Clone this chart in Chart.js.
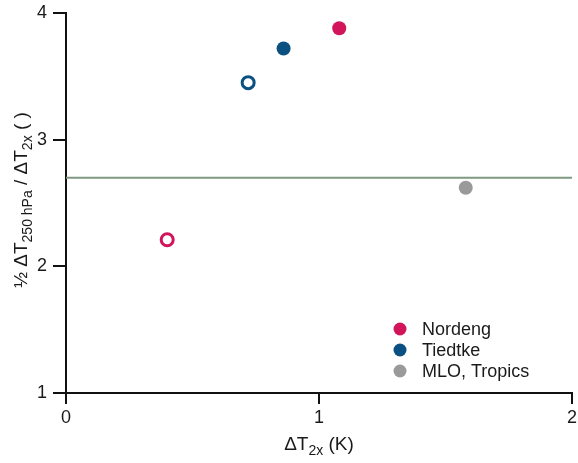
<!DOCTYPE html>
<html>
<head>
<meta charset="utf-8">
<script src="https://cdn.jsdelivr.net/npm/chart.js@4.4.0/dist/chart.umd.min.js"></script>
<style>
  html, body { margin: 0; padding: 0; background: #fff; }
  #wrap { width: 578px; height: 463px; }
</style>
</head>
<body>
<div id="wrap"><canvas id="chart" width="578" height="463"></canvas></div>
<script>
// data
const seriesNames = ['Nordeng', 'Tiedtke', 'MLO, Tropics'];
const seriesColors = ['#d2145a', '#0a5080', '#9a9a9a'];
const nordengX = [1.08, 0.40];
const nordengY = [3.88, 2.21];
const nordengFilled = [true, false];
const tiedtkeX = [0.86, 0.72];
const tiedtkeY = [3.72, 3.45];
const tiedtkeFilled = [true, false];
const mloX = [1.58];
const mloY = [2.62];
const mloFilled = [true];
const refLineX = [0, 2];
const refLineY = [2.70, 2.70];
const xTicks = [0, 1, 2];
const yTicks = [1, 2, 3, 4];

const FONT = '"Liberation Sans", Arial, sans-serif';

function pts(xs, ys) {
  return xs.map((x, i) => ({ x: x, y: ys[i] }));
}

function scatterSet(label, color, xs, ys, filled) {
  return {
    label: label,
    data: pts(xs, ys),
    showLine: false,
    pointRadius: filled.map(f => f ? 7 : 6),
    pointBorderWidth: filled.map(f => f ? 0 : 3),
    pointBackgroundColor: filled.map(f => f ? color : '#ffffff'),
    pointBorderColor: color,
    pointHoverRadius: filled.map(f => f ? 7 : 6)
  };
}

const datasets = [
  {
    label: 'ref',
    data: pts(refLineX, refLineY),
    showLine: true,
    borderColor: '#7f9a80',
    borderWidth: 2,
    pointRadius: 0
  },
  scatterSet(seriesNames[0], seriesColors[0], nordengX, nordengY, nordengFilled),
  scatterSet(seriesNames[1], seriesColors[1], tiedtkeX, tiedtkeY, tiedtkeFilled),
  scatterSet(seriesNames[2], seriesColors[2], mloX, mloY, mloFilled)
];

// draw text with subscript pieces: parts = [[text, isSub], ...]
function partsWidth(ctx, parts, size, subSize) {
  let w = 0;
  parts.forEach(p => {
    ctx.font = (p[1] ? subSize : size) + 'px ' + FONT;
    w += ctx.measureText(p[0]).width;
  });
  return w;
}
function drawParts(ctx, parts, x, y, size, subSize) {
  let cx = x;
  parts.forEach(p => {
    ctx.font = (p[1] ? subSize : size) + 'px ' + FONT;
    ctx.fillText(p[0], cx, p[1] ? y + size * 0.3 : y);
    cx += ctx.measureText(p[0]).width;
  });
}

const extras = {
  id: 'extras',
  afterDraw(chart) {
    const ctx = chart.ctx;
    const area = chart.chartArea;
    const xs = chart.scales.x;
    ctx.save();
    ctx.fillStyle = '#1a1a1a';
    ctx.textBaseline = 'middle';

    // x tick labels (drawn here so they don't shrink the plot area)
    ctx.textAlign = 'center';
    ctx.font = '18px ' + FONT;
    xTicks.forEach(v => ctx.fillText(String(v), xs.getPixelForValue(v), 418));

    // x title
    ctx.textAlign = 'left';
    const xParts = [['\u0394T', false], ['2x', true], [' (K)', false]];
    const xw = partsWidth(ctx, xParts, 19, 14);
    drawParts(ctx, xParts, (area.left + area.right) / 2 - xw / 2, 445, 19, 14);

    // y title
    const yParts = [['\u00bd \u0394T', false], ['250 hPa', true], [' / \u0394T', false], ['2x', true], [' ( )', false]];
    const yw = partsWidth(ctx, yParts, 19, 14);
    ctx.translate(22, 200);
    ctx.rotate(-Math.PI / 2);
    drawParts(ctx, yParts, -yw / 2, 0, 19, 14);
    ctx.restore();

    // legend
    ctx.save();
    ctx.textBaseline = 'middle';
    ctx.textAlign = 'left';
    ctx.font = '18px ' + FONT;
    seriesNames.forEach((name, i) => {
      const y = 329 + i * 21;
      ctx.beginPath();
      ctx.arc(400, y, 6.5, 0, Math.PI * 2);
      ctx.fillStyle = seriesColors[i];
      ctx.fill();
      ctx.fillStyle = '#1a1a1a';
      ctx.fillText(name, 422, y + 1);
    });
    ctx.restore();
  }
};

const noPad = () => ({ left: 0, right: 0, top: 0, bottom: 0 });

new Chart(document.getElementById('chart'), {
  type: 'scatter',
  data: { datasets: datasets },
  options: {
    responsive: false,
    animation: false,
    layout: { autoPadding: false, padding: { top: 13, right: 6, left: 0, bottom: 0 } },
    plugins: { legend: { display: false }, tooltip: { enabled: false } },
    scales: {
      x: {
        type: 'linear',
        min: 0, max: 2,
        afterBuildTicks: s => { s.ticks = xTicks.map(v => ({ value: v })); },
        afterFit: s => { s.height = 70; s.getPadding = noPad; },
        border: { color: '#111', width: 2 },
        grid: { drawOnChartArea: false, drawTicks: true, tickLength: 11, tickColor: '#111', lineWidth: 2 },
        ticks: { display: false }
      },
      y: {
        type: 'linear',
        min: 1, max: 4,
        afterBuildTicks: s => { s.ticks = yTicks.map(v => ({ value: v })); },
        afterFit: s => { s.width = 66; s.getPadding = noPad; },
        border: { color: '#111', width: 2 },
        grid: { drawOnChartArea: false, drawTicks: true, tickLength: 13, tickColor: '#111', lineWidth: 2 },
        ticks: { color: '#1a1a1a', font: { family: FONT, size: 18 }, padding: 6 }
      }
    }
  },
  plugins: [extras]
});
</script>
</body>
</html>
